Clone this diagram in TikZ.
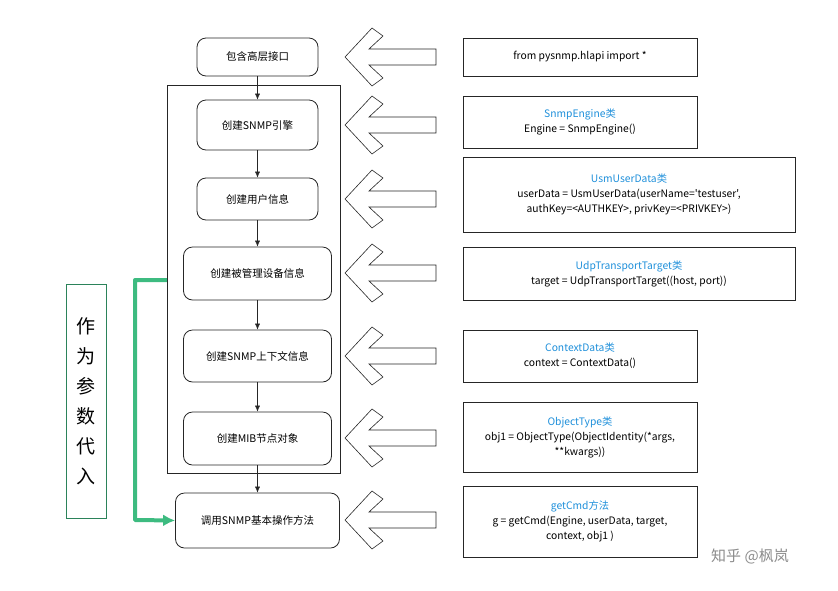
\documentclass[tikz,border=0pt]{standalone}
\usepackage{fontspec}
\setmainfont{Noto Sans CJK SC}[Ligatures=TeXOff]
\usetikzlibrary{arrows.meta}
\begin{document}
\begin{tikzpicture}[x=1pt,y=-1pt,
  stp/.style={draw=black!85,rounded corners=9pt,thick,inner sep=0pt,font=\fontsize{10.5}{12}\selectfont},
  info/.style={draw=black!85,inner sep=0pt,align=center,font=\fontsize{10.3}{15}\selectfont},
  arr/.style={-{Latex[length=6pt,width=5pt]},black!85},
  hol/.style={draw=black!85,fill=white,line width=0.6pt}]
\useasboundingbox (0,0) rectangle (838,590);
\definecolor{gr}{HTML}{3DBB80}
\definecolor{cb}{HTML}{1E8FDA}
\newcommand\hollow[1]{\draw[hol] (345,#1) -- (372,#1-29) -- (383,#1-21) -- (369,#1-8) -- (436,#1-8) -- (436,#1+8) -- (369,#1+8) -- (383,#1+21) -- (372,#1+29) -- cycle;}
\node[draw=black!85,minimum width=173pt,minimum height=388pt,inner sep=0pt] (frame) at (253.5,279) {};
\node[stp,minimum width=121pt,minimum height=38pt] (n1) at (257.5,57) {包含高层接口};
\node[stp,minimum width=121pt,minimum height=50pt] (n2) at (257.5,125) {创建SNMP引擎};
\node[stp,minimum width=121pt,minimum height=42pt] (n3) at (257.5,199) {创建用户信息};
\node[stp,minimum width=148pt,minimum height=53pt] (n4) at (257.5,273.5) {创建被管理设备信息};
\node[stp,minimum width=148pt,minimum height=52pt] (n5) at (257.5,356) {创建SNMP上下文信息};
\node[stp,minimum width=148pt,minimum height=53pt] (n6) at (257.5,438.5) {创建MIB节点对象};
\node[stp,minimum width=164pt,minimum height=55pt] (n7) at (257.5,520.5) {调用SNMP基本操作方法};
\draw[arr] (n1) -- (n2);
\draw[arr] (n2) -- (n3);
\draw[arr] (n3) -- (n4);
\draw[arr] (n4) -- (n5);
\draw[arr] (n5) -- (n6);
\draw[arr] (n6) -- (n7);
\node[draw=gr!70!black,minimum width=40pt,minimum height=234pt,inner sep=0pt,align=center,font=\fontsize{19}{30}\selectfont] (lab) at (86,401) {作\\为\\参\\数\\代\\入};
\coordinate (g1) at (135,280);
\draw[gr,line width=4pt,line join=round,-{Latex[length=12pt,width=12pt]}] (frame.west |- g1) -- (g1) -- (135,520) -- (n7.west);
\hollow{57}\hollow{125}\hollow{199}\hollow{273}\hollow{356}\hollow{438}\hollow{520}
\node[info,minimum width=234pt,minimum height=38pt] (b1) at (580,57) {from pysnmp.hlapi import *};
\node[info,minimum width=234pt,minimum height=52pt] (b2) at (580,122) {\textcolor{cb}{SnmpEngine类}\\Engine = SnmpEngine()};
\node[info,minimum width=332pt,minimum height=75pt] (b3) at (629,194.5) {\textcolor{cb}{UsmUserData类}\\userData = UsmUserData(userName='testuser',\\authKey=<AUTHKEY>, privKey=<PRIVKEY>)};
\node[info,minimum width=332pt,minimum height=53pt] (b4) at (629,273.5) {\textcolor{cb}{UdpTransportTarget类}\\target = UdpTransportTarget((host, port))};
\node[info,minimum width=234pt,minimum height=52pt] (b5) at (580,356) {\textcolor{cb}{ContextData类}\\context = ContextData()};
\node[info,minimum width=234pt,minimum height=70pt] (b6) at (580,437) {\textcolor{cb}{ObjectType类}\\obj1 = ObjectType(ObjectIdentity(*args,\\**kwargs))};
\node[info,minimum width=234pt,minimum height=71pt] (b7) at (580,521.5) {\textcolor{cb}{getCmd方法}\\g = getCmd(Engine, userData, target,\\context, obj1 )};
\node[text=black!45,font=\fontsize{15}{18}\selectfont] (wm) at (750,556) {知乎 @枫岚};
\end{tikzpicture}
\end{document}
